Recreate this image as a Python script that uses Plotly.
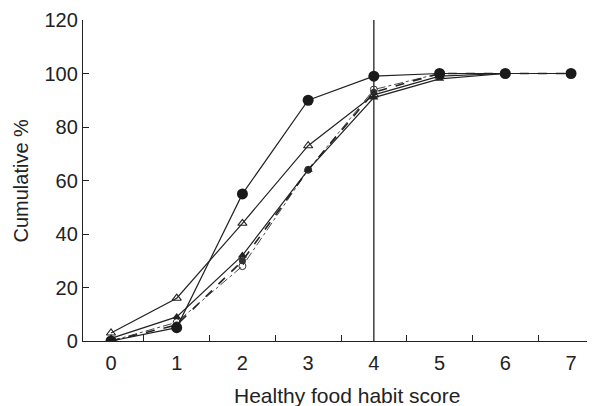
import plotly.graph_objects as go

scores = [0, 1, 2, 3, 4, 5, 6, 7]
series_filled_circle = [0, 5, 55, 90, 99, 100, 100, 100]
series_open_triangle = [3, 16, 44, 73, 92, 99, 100, 100]
series_filled_triangle = [1, 9, 32, 64, 91, 98, 100, 100]
series_open_circle = [0, 7, 28, 64, 94, 100, 100, 100]
series_dashed = [0, 6, 30, 64, 93, 100, 100, 100]
cutoff_score = 4
y_ticks = [0, 20, 40, 60, 80, 100, 120]
x_minor = [0.5, 1.5, 2.5, 3.5, 4.5, 5.5, 6.5]

fig = go.Figure()
# vertical cutoff line
fig.add_trace(go.Scatter(x=[cutoff_score, cutoff_score], y=[0, 120], mode="lines",
                         line=dict(color="#222", width=1.3), hoverinfo="skip"))

fig.add_trace(go.Scatter(x=scores, y=series_open_circle, mode="lines+markers",
                         line=dict(color="#333", width=0.9, dash="dashdot"),
                         marker=dict(symbol="circle-open", size=7, color="#333", line=dict(width=1))))
fig.add_trace(go.Scatter(x=scores, y=series_dashed, mode="lines+markers",
                         line=dict(color="#222", width=1.6, dash="dash"),
                         marker=dict(symbol="circle", size=7, color="#333")))
fig.add_trace(go.Scatter(x=scores, y=series_filled_triangle, mode="lines+markers",
                         line=dict(color="#222", width=1.2),
                         marker=dict(symbol="triangle-up", size=8, color="#222")))
fig.add_trace(go.Scatter(x=scores, y=series_open_triangle, mode="lines+markers",
                         line=dict(color="#222", width=1.2),
                         marker=dict(symbol="triangle-up-open", size=8, color="#222", line=dict(width=1.1))))
fig.add_trace(go.Scatter(x=scores, y=series_filled_circle, mode="lines+markers",
                         line=dict(color="#222", width=1.2),
                         marker=dict(symbol="circle", size=11, color="#1a1a1a")))

FONT = "Liberation Sans, Arial, sans-serif"
fig.update_layout(
    width=587, height=398,
    margin=dict(l=75, r=0, t=12, b=65),
    paper_bgcolor="white", plot_bgcolor="white",
    showlegend=False,
    font=dict(family=FONT, size=20, color="#222"),
    annotations=[
        dict(text="Healthy food habit score", xref="paper", yref="paper", x=0.516, y=0,
             xanchor="center", yanchor="middle", yshift=-54, showarrow=False,
             font=dict(size=21, family=FONT, color="#222")),
        dict(text="Cumulative %", xref="paper", yref="paper", x=0, y=0.5,
             xanchor="center", yanchor="middle", xshift=-63, textangle=-90, showarrow=False,
             font=dict(size=20, family=FONT, color="#222")),
    ],
)
fig.update_xaxes(
    range=[-0.426, 7.365], tickvals=scores, ticktext=[str(s) for s in scores],
    ticks="", showgrid=False, zeroline=False, showline=True, linecolor="#222", linewidth=1.3,
    minor=dict(tickvals=x_minor, ticks="inside", ticklen=6, tickcolor="#222", tickwidth=1.2, showgrid=False),
    tickfont=dict(size=20), automargin=False, ticklabelstandoff=4,
)
fig.update_yaxes(
    range=[0, 120], tickvals=y_ticks, ticks="inside", ticklen=6, tickcolor="#222", tickwidth=1.2,
    showgrid=False, zeroline=False, showline=True, linecolor="#222", linewidth=1.3,
    tickfont=dict(size=20), automargin=False,
)

fig.write_html("out.html")
